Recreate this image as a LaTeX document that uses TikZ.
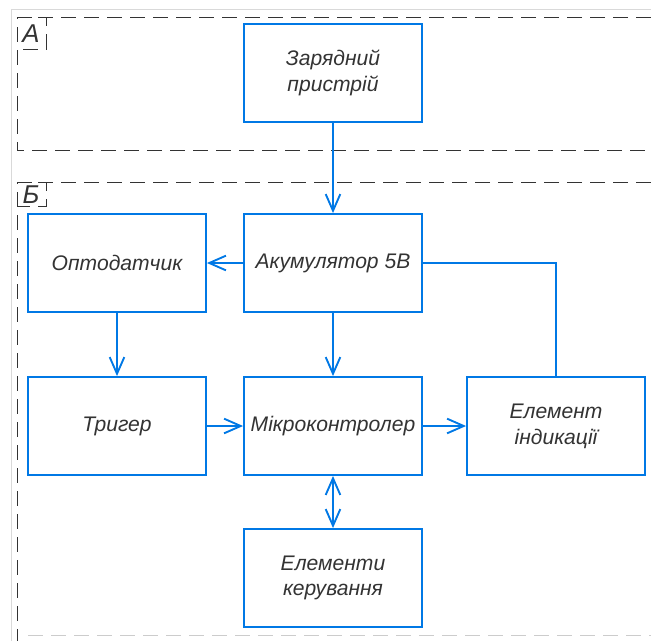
\documentclass[tikz,border=0pt]{standalone}
\usepackage{fontspec}
\setmainfont{Liberation Sans}
\usetikzlibrary{arrows.meta,positioning}

\definecolor{cblok}{rgb}{0.0,0.47,0.90}
\tikzset{
  blok/.style={draw=cblok,line width=1.6pt,minimum width=5.34cm,minimum height=2.94cm,
    align=center,font=\fontsize{18}{22}\selectfont\itshape,text=black!80},
  zv/.style={draw=cblok,line width=1.6pt,-{Straight Barb[length=5mm,width=4.4mm]}},
  zv2/.style={draw=cblok,line width=1.6pt,{Straight Barb[length=5mm,width=4.4mm]}-{Straight Barb[length=5mm,width=4.4mm]}},
  lin/.style={draw=cblok,line width=1.6pt},
  zona/.style={draw=black!80,line width=0.7pt,dash pattern=on 0.45cm off 0.24cm},
  bukva/.style={font=\fontsize{22}{24}\selectfont\itshape,text=black!80,inner sep=0pt},
}

\begin{document}
\begin{tikzpicture}[x=0.03cm,y=-0.03cm]
%
\useasboundingbox (0,0) rectangle (651,641);
%
% rama
\draw[black!15,line width=0.5pt] (11,641) -- (11,9) -- (651,9);
%
% zony
\draw[zona] (651,17) -- (17,17) -- (17,150) -- (651,150);
\draw[zona] (17,17) -- (46,17) -- (46,49) -- (17,49);
\node[bukva] (la) at (31,34) {А};
\draw[zona] (651,182) -- (17,182) -- (17,641);
\draw[zona] (17,182) -- (46,182) -- (46,206) -- (17,206);
\draw[zona,black!20] (28,635) -- (651,635);
\node[bukva] (lb) at (31,195) {Б};
%
% bloky
\node[blok] (zar) at (333,73) {Зарядний\\пристрій};
\node[blok,inner xsep=1pt] (akum) at (333,263) {Акумулятор 5В};
\node[blok] (opto) at (117,263) {Оптодатчик};
\node[blok] (tryg) at (117,426) {Тригер};
\node[blok] (mikro) at (333,426) {Мікроконтролер};
\node[blok] (elem) at (556,426) {Елемент\\індикації};
\node[blok] (kerub) at (333,578) {Елементи\\керування};
%
% zvyazky
\draw[zv] (zar) -- (akum);
\draw[zv] (akum) -- (opto);
\draw[zv] (akum) -- (mikro);
\draw[zv] (opto) -- (tryg);
\draw[zv] (tryg) -- (mikro);
\draw[zv] (mikro) -- (elem);
\draw[zv2] (mikro) -- (kerub);
\draw[lin] (akum.east) -| (elem.north);
%
\end{tikzpicture}
\end{document}
